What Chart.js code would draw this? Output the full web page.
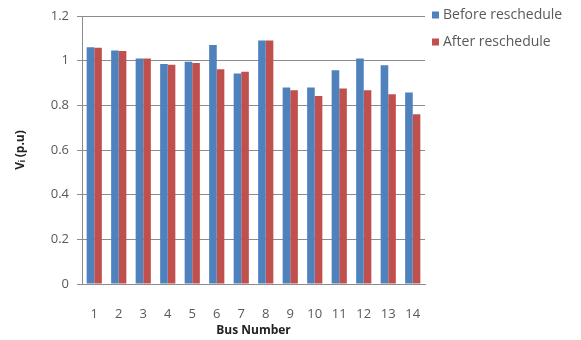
<!DOCTYPE html>
<html>
<head>
<meta charset="utf-8">
<script src="https://cdn.jsdelivr.net/npm/chart.js@4.4.1/dist/chart.umd.min.js"></script>
<style>
  html, body { margin: 0; padding: 0; background: #ffffff; }
  #wrap { width: 581px; height: 340px; }
</style>
</head>
<body>
<div id="wrap"><canvas id="c" width="581" height="340"></canvas></div>
<script>
// Bus voltages (p.u) before and after rescheduling
const busNumbers = ['1','2','3','4','5','6','7','8','9','10','11','12','13','14'];
const beforeReschedule = [1.06, 1.045, 1.01, 0.985, 0.995, 1.07, 0.943, 1.09, 0.88, 0.88, 0.957, 1.01, 0.98, 0.858];
const afterReschedule  = [1.058, 1.043, 1.01, 0.982, 0.99, 0.962, 0.95, 1.09, 0.868, 0.842, 0.875, 0.868, 0.85, 0.76];
const yTicks = [0, 0.2, 0.4, 0.6, 0.8, 1, 1.2];

const FONT = '"Open Sans", "Liberation Sans", sans-serif';
const GREY_TEXT = '#595959';
const GRID = '#8c8c8c';

// Legend drawn at the right of the plot, one row per series
const sideLegend = {
  id: 'sideLegend',
  afterDraw(chart) {
    const ctx = chart.ctx;
    const x0 = chart.chartArea.right + 7;
    ctx.save();
    ctx.font = '14px ' + FONT;
    ctx.textBaseline = 'middle';
    chart.data.datasets.forEach((ds, i) => {
      const y = 15 + i * 27;
      ctx.fillStyle = ds.backgroundColor;
      ctx.fillRect(x0, y - 3.5, 7, 7);
      ctx.fillStyle = GREY_TEXT;
      ctx.fillText(ds.label, x0 + 11, y);
    });
    ctx.restore();
  }
};

new Chart(document.getElementById('c'), {
  type: 'bar',
  data: {
    labels: busNumbers,
    datasets: [
      { label: 'Before reschedule', data: beforeReschedule, backgroundColor: '#4F81BD',
        barPercentage: 1.0, categoryPercentage: 0.62 },
      { label: 'After reschedule', data: afterReschedule, backgroundColor: '#C0504D',
        barPercentage: 1.0, categoryPercentage: 0.62 }
    ]
  },
  options: {
    responsive: false,
    animation: false,
    devicePixelRatio: 1,
    layout: { padding: { top: 16, right: 156, bottom: 0, left: 13 } },
    plugins: {
      legend: { display: false },
      tooltip: { enabled: false }
    },
    scales: {
      x: {
        grid: { display: false, drawTicks: false },
        border: { display: true, color: GRID, width: 1 },
        ticks: { color: GREY_TEXT, font: { family: FONT, size: 13 }, padding: 22, maxRotation: 0 },
        title: { display: true, text: 'Bus Number', color: '#222', font: { family: FONT, size: 12, weight: 'bold' }, padding: { top: 0, bottom: 2 } },
        afterFit(scale) { scale.height = 56; }
      },
      y: {
        min: 0, max: 1.2,
        afterBuildTicks(scale) { scale.ticks = yTicks.map(v => ({ value: v })); },
        grid: { color: GRID, tickLength: 5, drawTicks: true },
        border: { display: true, color: GRID, width: 1 },
        ticks: { color: GREY_TEXT, font: { family: FONT, size: 13 }, padding: 8,
                 callback: v => String(v) },
        title: { display: true, text: 'Vᵢ (p.u)', color: '#222', font: { family: FONT, size: 12, weight: 'bold' }, padding: { top: 0, bottom: 4 } },
        afterFit(scale) { scale.width = 69; }
      }
    }
  },
  plugins: [sideLegend]
});
</script>
</body>
</html>
